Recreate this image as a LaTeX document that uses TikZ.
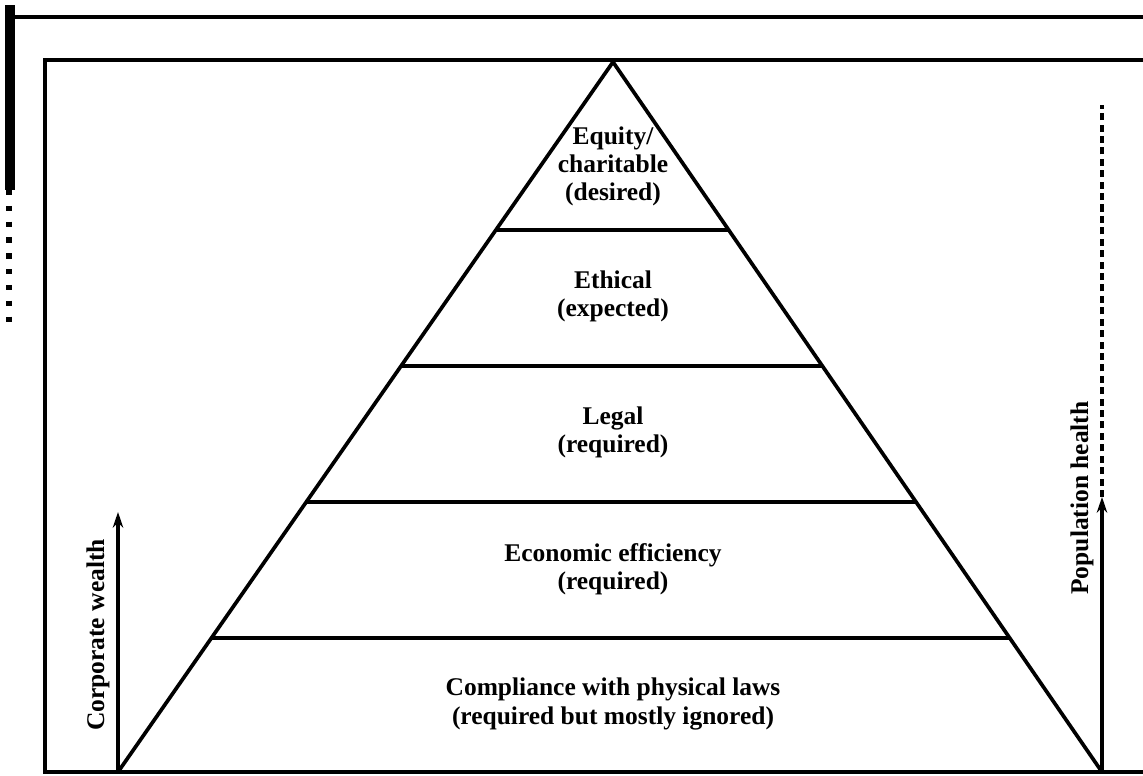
\documentclass[tikz,border=0pt]{standalone}
\usepackage{fontspec}
\setmainfont{Liberation Serif}
\usetikzlibrary{positioning, arrows.meta, calc}

\begin{document}
\begin{tikzpicture}[x=0.02cm, y=-0.02cm,
  frame/.style={line width=2pt},
  tier/.style={line width=2.1pt},
  lbl/.style={font=\bfseries\fontsize{14.5}{16}\selectfont, align=center, inner sep=0pt},
  axis/.style={line width=1.9pt, -{Stealth[length=9pt, width=6pt]}}]
\useasboundingbox (0,0) rectangle (1143,775);
% scanned edge and frames
\draw[line width=6pt] (10,5) -- (10,190);
\draw[line width=3pt, dash pattern=on 3pt off 6pt] (9,190) -- (9,330);
\draw[frame] (10,17) -- (1143,17);
\draw[frame] (1143,60) -- (45,60) -- (45,772) -- (1143,772);
% pyramid
\coordinate (apex) at (613,62);
\coordinate (bl) at (118,772);
\coordinate (br) at (1102,772);
\draw[tier, line join=miter] (bl) -- (apex) -- (br);
\foreach \t in {0.2366, 0.428, 0.6197, 0.811}
  \draw[tier] ($(apex)!\t!(bl)$) -- ($(apex)!\t!(br)$);
\node[lbl] (equity) at (613,166) {Equity/\\charitable\\(desired)};
\node[lbl] (ethical) at (613,296) {Ethical\\(expected)};
\node[lbl] (legal) at (613,432) {Legal\\(required)};
\node[lbl] (econ) at (613,569) {Economic efficiency\\(required)};
\node[lbl] (phys) at (613,704) {Compliance with physical laws\\(required but mostly ignored)};
% side axes
\coordinate (cwtip) at (118,512);
\coordinate (phtip) at (1102,497);
\coordinate (phtop) at (1102,105);
\draw[axis] (bl) -- (cwtip);
\draw[axis] (br) -- (phtip);
\draw[line width=2pt, dash pattern=on 4pt off 2.5pt] (phtip) -- (phtop);
\node[lbl, rotate=90] (wealth) at (98,635) {Corporate wealth};
\node[lbl, rotate=90] (health) at (1082,498) {Population health};
\end{tikzpicture}
\end{document}
